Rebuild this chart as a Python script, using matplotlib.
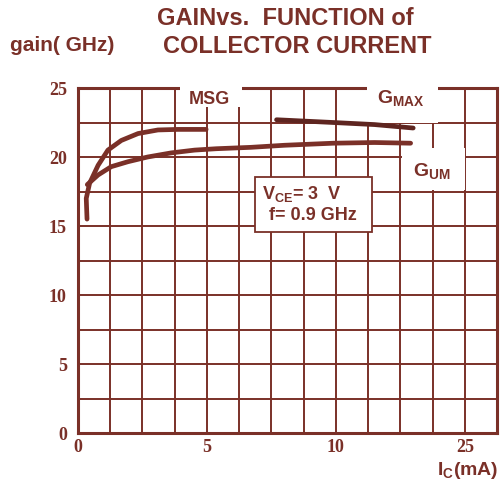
import numpy as np
import matplotlib.pyplot as plt
from matplotlib.patches import Rectangle

# curve data (Ic in mA, gain in dB)
msg_ic = [0.35, 0.32, 0.45, 0.78, 1.16, 1.68, 2.33, 3.1, 3.88, 4.97]
msg_gain = [15.5, 17.0, 18.1, 19.4, 20.5, 21.2, 21.7, 21.96, 22.0, 22.0]

gum_ic = [0.36, 0.78, 1.29, 1.94, 2.7, 3.62, 4.52, 5.36, 6.7, 8.0, 9.9, 11.5, 12.9]
gum_gain = [18.0, 18.7, 19.3, 19.66, 20.0, 20.3, 20.5, 20.6, 20.7, 20.85, 21.0, 21.05, 21.0]

gmax_ic = [7.7, 9.9, 11.5, 13.0]
gmax_gain = [22.7, 22.5, 22.35, 22.1]

xtick_pos = [0, 5, 10, 15]
xtick_labels = ["0", "5", "10", "25"]
ytick_pos = [0, 5, 10, 15, 20, 25]
ytick_labels = ["0", "5", "10", "15", "20", "25"]

RED = '#7a3028'
DARK = '#5e2520'

fig = plt.figure(figsize=(5, 4.83), dpi=100)
ax = fig.add_axes([0.156, 0.1035, 0.838, 0.7143])
ax.set_xlim(0, 16.25)
ax.set_ylim(0, 25)

ax.set_xticks(xtick_pos)
ax.set_xticklabels(xtick_labels)
ax.set_yticks(ytick_pos)
ax.set_yticklabels(ytick_labels)
# grid every 1.25 mA and 2.5 dB
ax.set_xticks(np.arange(0, 16.26, 1.25), minor=True)
ax.set_yticks(np.arange(0, 25.1, 2.5), minor=True)
ax.grid(which='both', color=RED, linewidth=1.4)
ax.set_axisbelow(True)
ax.tick_params(which='both', length=0)

for lab in ax.get_xticklabels() + ax.get_yticklabels():
    lab.set_family('Liberation Serif')
    lab.set_fontweight('bold')
    lab.set_fontsize(13)
    lab.set_color(RED)
ax.tick_params(axis='x', pad=4)
ax.tick_params(axis='y', pad=8)

for s in ax.spines.values():
    s.set_color(RED)
    s.set_linewidth(2.2)

# white label boxes that break the grid
for (x0, y0, w, h) in [(3.96, 23.6, 2.4, 1.8), (11.2, 22.46, 2.76, 3.0),
                       (12.57, 17.6, 2.43, 3.05)]:
    ax.add_patch(Rectangle((x0, y0), w, h, facecolor='white', edgecolor='none',
                           zorder=3, clip_on=False))

ax.plot(msg_ic, msg_gain, color=RED, lw=3.4, solid_capstyle='round',
        solid_joinstyle='round', zorder=4)
ax.plot(gum_ic, gum_gain, color=RED, lw=3.4, solid_capstyle='round',
        solid_joinstyle='round', zorder=4)
ax.plot(gmax_ic, gmax_gain, color=DARK, lw=3.4, solid_capstyle='round',
        solid_joinstyle='round', zorder=4)

sans = 'Liberation Sans'
ax.text(4.3, 24.2, 'MSG', color=RED, fontsize=13, family=sans, fontweight='bold',
        va='center', zorder=5)
ax.text(11.6, 24.2, r'G$_{\mathregular{MAX}}$', color=RED, fontsize=14, family=sans,
        fontweight='bold', va='center', zorder=5)
ax.text(13.0, 18.9, r'G$_{\mathregular{UM}}$', color=RED, fontsize=14, family=sans,
        fontweight='bold', va='center', zorder=5)

ax.add_patch(Rectangle((6.87, 14.57), 4.53, 3.98, facecolor='white', edgecolor=RED,
                       lw=1.3, zorder=3))
ax.text(7.15, 17.3, r'V$_{\mathregular{CE}}$= 3  V', color=RED, fontsize=13,
        family=sans, fontweight='bold', va='center', zorder=5)
ax.text(7.4, 15.75, 'f= 0.9 GHz', color=RED, fontsize=13, family=sans,
        fontweight='bold', va='center', zorder=5)

fig.text(0.314, 0.962, 'GAINvs.  FUNCTION of', color=RED, fontsize=17, family=sans,
         fontweight='bold', va='center')
fig.text(0.326, 0.903, 'COLLECTOR CURRENT', color=RED, fontsize=17, family=sans,
         fontweight='bold', va='center')
fig.text(0.02, 0.905, 'gain( GHz)', color=RED, fontsize=15, family=sans,
         fontweight='bold', va='center')
fig.text(0.874, 0.026, r'I$_{\mathregular{C}}$(mA)', color=RED, fontsize=14,
         family=sans, fontweight='bold', va='center')

fig.savefig('out.png', dpi=100)
